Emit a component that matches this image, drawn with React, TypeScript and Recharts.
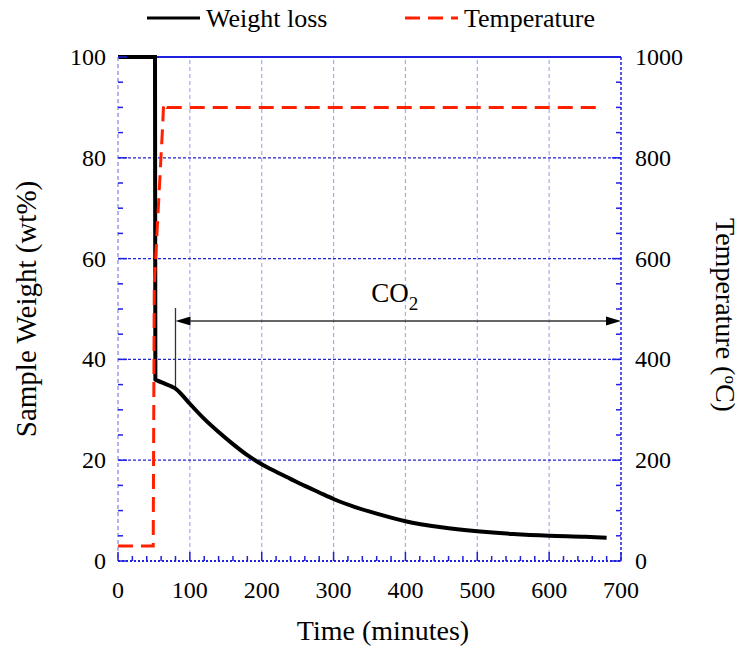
import React from 'react'
import { ComposedChart, Line, XAxis, YAxis, ReferenceLine, ReferenceDot, Label } from 'recharts'

// weight loss curve (time in minutes, wt%)
const weightTime = [0, 51.5, 52, 55, 65, 75, 80, 90, 100, 120, 140, 160, 180, 200, 220, 240, 260, 280, 300, 330, 360, 400, 450, 500, 550, 600, 650, 680]
const weightValue = [100, 100, 36, 35.8, 35.2, 34.6, 34.2, 32.8, 31.2, 28.2, 25.6, 23.2, 21.0, 19.2, 17.7, 16.3, 14.9, 13.6, 12.3, 10.7, 9.4, 7.9, 6.7, 5.9, 5.35, 5.0, 4.8, 4.6]

// furnace temperature (°C)
const tempTime = [0, 49, 50.5, 62, 63.5, 68, 300, 669]
const tempValue = [30, 30, 550, 860, 908, 900, 900, 900]

const xTicks = [0, 20, 40, 60, 80, 100, 120, 140, 160, 180, 200, 220, 240, 260, 280, 300, 320, 340, 360, 380, 400, 420, 440, 460, 480, 500, 520, 540, 560, 580, 600, 620, 640, 660, 680, 700]
const xMajor = [0, 100, 200, 300, 400, 500, 600, 700]
const leftTicks = [0, 5, 10, 15, 20, 25, 30, 35, 40, 45, 50, 55, 60, 65, 70, 75, 80, 85, 90, 95, 100]
const leftMajor = [0, 20, 40, 60, 80, 100]
const rightTicks = [0, 50, 100, 150, 200, 250, 300, 350, 400, 450, 500, 550, 600, 650, 700, 750, 800, 850, 900, 950, 1000]
const rightMajor = [0, 200, 400, 600, 800, 1000]
const gridX = [100, 200, 300, 400, 500, 600]
const gridY = [20, 40, 60, 80]

const weightData = weightTime.map((t, i) => ({ t, w: weightValue[i] }))
const tempData = tempTime.map((t, i) => ({ t, temp: tempValue[i] }))

const FONT = "'Liberation Serif', 'Times New Roman', Times, 'DejaVu Serif', serif"
const TXT = { fontFamily: FONT }
const BLUE = '#2020e0'
const RED = '#ff2000'

function LeftTick(props: any) {
  const { x, y, payload } = props
  const v = payload.value
  const major = leftMajor.includes(v)
  return (
    <g>
      <line x1={x + 12} x2={x + 12 + (major ? 9 : 5)} y1={y} y2={y} stroke={BLUE} strokeWidth={1.5} />
      {major && (
        <text x={x} y={y} textAnchor="end" dominantBaseline="central" style={TXT} fontSize={24} fill="#000">{v}</text>
      )}
    </g>
  )
}

function RightTick(props: any) {
  const { x, y, payload } = props
  const v = payload.value
  const major = rightMajor.includes(v)
  return (
    <g>
      <line x1={x - 14} x2={x - 14 - (major ? 9 : 5)} y1={y} y2={y} stroke={BLUE} strokeWidth={1.5} />
      {major && (
        <text x={x} y={y} textAnchor="start" dominantBaseline="central" style={TXT} fontSize={24} fill="#000">{v}</text>
      )}
    </g>
  )
}

function BottomTick(props: any) {
  const { x, y, payload } = props
  const v = payload.value
  const major = xMajor.includes(v)
  return (
    <g>
      <line x1={x} x2={x} y1={y} y2={y - (major ? 9 : 5)} stroke={BLUE} strokeWidth={1.5} />
      {major && (
        <text x={x} y={y + 29} textAnchor="middle" dominantBaseline="central" style={TXT} fontSize={24} fill="#000">{v}</text>
      )}
    </g>
  )
}

function TopTick(props: any) {
  const { x, y, payload } = props
  const major = xMajor.includes(payload.value)
  return <line x1={x} x2={x} y1={y} y2={y + (major ? 9 : 5)} stroke={BLUE} strokeWidth={1.5} />
}

function ArrowShape(props: any) {
  const { x1, y1, x2, y2 } = props
  const L = 15
  const H = 4.5
  return (
    <g>
      <line x1={x1 + L} y1={y1} x2={x2 - L} y2={y2} stroke="#333" strokeWidth={1.5} />
      <polygon points={`${x1},${y1} ${x1 + L},${y1 - H} ${x1 + L},${y1 + H}`} fill="#000" />
      <polygon points={`${x2},${y2} ${x2 - L},${y2 - H} ${x2 - L},${y2 + H}`} fill="#000" />
    </g>
  )
}

function CO2Label(props: any) {
  const { cx, cy } = props
  return (
    <text x={cx} y={cy} textAnchor="middle" style={TXT} fontSize={27} fill="#000">
      CO<tspan fontSize={19} dy={8}>2</tspan>
    </text>
  )
}

function LegendBox() {
  return (
    <svg width={743} height={40} style={{ position: 'absolute', left: 0, top: 0 }}>
      <line x1={147} x2={200} y1={18} y2={18} stroke="#000" strokeWidth={3} />
      <text x={206} y={27} style={TXT} fontSize={26} fill="#000">Weight loss</text>
      <line x1={405} x2={458} y1={18} y2={18} stroke={RED} strokeWidth={3} strokeDasharray="15 8" />
      <text x={464} y={27} style={TXT} fontSize={26} fill="#000">Temperature</text>
    </svg>
  )
}

export default function App() {
  return (
    <div style={{ position: 'fixed', left: 0, top: 0, width: 743, height: 647, background: '#fff', fontFamily: FONT }}>
      <ComposedChart width={743} height={647} data={weightData} margin={{ top: 57, right: 0, bottom: 0, left: 0 }}>
        <XAxis xAxisId="bottom" dataKey="t" type="number" domain={[0, 700]} ticks={xTicks} interval={0}
          height={86} tickSize={0} tickMargin={0} tick={(p: any) => <BottomTick {...p} />}
          axisLine={{ stroke: BLUE, strokeWidth: 2, strokeDasharray: '2 2' }}>
          <Label content={() => (
            <text x={383} y={640} textAnchor="middle" style={TXT} fontSize={28} fill="#000">Time (minutes)</text>
          )} />
        </XAxis>
        <XAxis xAxisId="top" orientation="top" type="number" domain={[0, 700]} ticks={xTicks} interval={0}
          height={0} tickSize={0} tickMargin={0} tick={(p: any) => <TopTick {...p} />} axisLine={false} />
        <YAxis yAxisId="left" type="number" domain={[0, 100]} ticks={leftTicks} interval={0} width={118}
          tickSize={0} tickMargin={12} tick={(p: any) => <LeftTick {...p} />}
          axisLine={{ stroke: '#9a9aee', strokeWidth: 1.5, strokeDasharray: '4 3' }}>
          <Label content={() => (
            <text x={36} y={309} transform="rotate(-90 36 309)" textAnchor="middle" style={TXT} fontSize={29} fill="#000">Sample Weight (wt%)</text>
          )} />
        </YAxis>
        <YAxis yAxisId="right" orientation="right" type="number" domain={[0, 1000]} ticks={rightTicks} interval={0} width={122}
          tickSize={0} tickMargin={14} tick={(p: any) => <RightTick {...p} />}
          axisLine={{ stroke: BLUE, strokeWidth: 1.5, strokeDasharray: '3 2' }}>
          <Label content={() => (
            <text x={716} y={315} transform="rotate(90 716 315)" textAnchor="middle" style={TXT} fontSize={28} fill="#000">
              Temperature (<tspan fontSize={17} dy={-9}>o</tspan><tspan dy={9}>C)</tspan>
            </text>
          )} />
        </YAxis>

        {gridX.map((v) => (
          <ReferenceLine key={'gx' + v} xAxisId="bottom" yAxisId="left" x={v} stroke="#a8a8ee" strokeWidth={1.2} strokeDasharray="4 3" />
        ))}
        {gridY.map((v) => (
          <ReferenceLine key={'gy' + v} xAxisId="bottom" yAxisId="left" y={v} stroke="#2323d0" strokeWidth={1.2} strokeDasharray="3 2" />
        ))}
        <ReferenceLine xAxisId="bottom" yAxisId="left" y={100} stroke={BLUE} strokeWidth={2} />

        <ReferenceLine xAxisId="bottom" yAxisId="left" segment={[{ x: 80, y: 50.2 }, { x: 80, y: 34.2 }]} stroke="#333" strokeWidth={1.3} />
        <ReferenceLine xAxisId="bottom" yAxisId="left" segment={[{ x: 80, y: 47.6 }, { x: 700, y: 47.6 }]}
          shape={(p: any) => <ArrowShape {...p} />} ifOverflow="visible" />
        <ReferenceDot xAxisId="bottom" yAxisId="left" x={385} y={51.4} shape={(p: any) => <CO2Label {...p} />} />

        <Line xAxisId="bottom" yAxisId="left" data={weightData} dataKey="w" type="monotoneX" dot={false}
          stroke="#000" strokeWidth={4} isAnimationActive={false} />
        <Line xAxisId="bottom" yAxisId="right" data={tempData} dataKey="temp" type="linear" dot={false}
          stroke={RED} strokeWidth={3} strokeDasharray="15 8" isAnimationActive={false} />
      </ComposedChart>
      <LegendBox />
    </div>
  )
}
